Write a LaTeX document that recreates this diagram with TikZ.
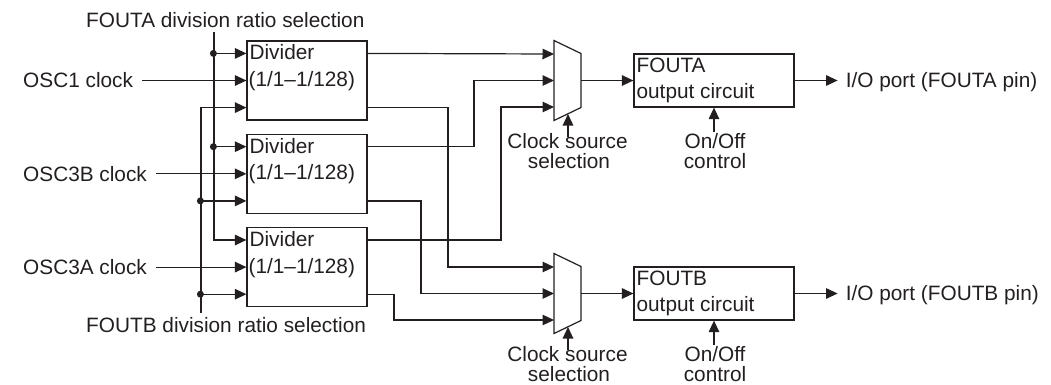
\documentclass[tikz,border=0pt]{standalone}
\usepackage{fontspec}
\setmainfont{Liberation Sans}
\usetikzlibrary{arrows.meta,calc}
\definecolor{ink}{RGB}{35,31,32}
\tikzset{
  wire/.style={draw=ink, line width=1.2pt},
  arr/.style={wire, -{Triangle[length=11.5pt,width=10.5pt]}},
  divbox/.style={draw=ink, line width=1.2pt, minimum width=120pt, minimum height=79pt, inner sep=0pt},
  outbox/.style={draw=ink, line width=1.2pt, minimum width=160pt, minimum height=53pt, inner sep=0pt},
  txt/.style={inner sep=0pt, text=ink, font=\fontsize{20.8pt}{20pt}\selectfont},
  junction/.style={circle, fill=ink, inner sep=0pt, minimum size=7pt},
  muxshape/.style={draw=ink, line width=1.2pt, line join=miter}
}
\begin{document}
\begin{tikzpicture}[x=1pt,y=-1pt]
\useasboundingbox (0,0) rectangle (1051,384);

% divider blocks
\foreach \i/\cy in {1/80.5, 2/173.8, 3/267.1} {
  \node[divbox] (d\i) at (307,\cy) {};
  \node[txt, anchor=base west] (d\i t1) at ($(d\i.north west)+(3,19.5)$) {Divider};
  \node[txt, anchor=base west] (d\i t2) at ($(d\i.north west)+(2,46)$) {(1/1–1/128)};
}

% clock source multiplexers
\coordinate (ma) at (567.5,80.5);
\coordinate (mb) at (567.5,293.5);
\foreach \m in {ma,mb} {
  \draw[muxshape] ($(\m)+(-13.5,-40)$) -- ($(\m)+(13.5,-27)$) -- ($(\m)+(13.5,27)$) -- ($(\m)+(-13.5,40)$) -- cycle;
  \coordinate (\m1) at ($(\m)+(-13.5,-26.5)$);
  \coordinate (\m2) at ($(\m)+(-13.5,0)$);
  \coordinate (\m3) at ($(\m)+(-13.5,26.5)$);
  \coordinate (\m-out) at ($(\m)+(13.5,0)$);
  \coordinate (\m-sel) at ($(\m)+(0.5,33.5)$);
}

% output circuits
\node[outbox] (fa) at (714,80.5) {};
\node[outbox] (fb) at (714,293.5) {};
\node[txt, anchor=base west] (fat1) at ($(fa.north west)+(3,19)$) {FOUTA};
\node[txt, anchor=base west] (fat2) at ($(fa.north west)+(3,45)$) {output circuit};
\node[txt, anchor=base west] (fbt1) at ($(fb.north west)+(3,19)$) {FOUTB};
\node[txt, anchor=base west] (fbt2) at ($(fb.north west)+(3,45)$) {output circuit};

% division ratio selection buses
\node[txt, anchor=base west] (selA) at (86,27) {FOUTA division ratio selection};
\node[txt, anchor=base west] (selB) at (86,332) {FOUTB division ratio selection};
\coordinate (busA) at (214,32);
\coordinate (busB) at (201,313);
\draw[arr] (busA) |- ($(d3.north west)+(0,13)$);
\node[junction] (ja1) at ($(d1.north west)+(-33,13)$) {};
\draw[arr] (ja1.center) -- (d1.west |- ja1);
\node[junction] (ja2) at ($(d2.north west)+(-33,13)$) {};
\draw[arr] (ja2.center) -- (d2.west |- ja2);
\draw[arr] (busB) |- ($(d1.south west)+(0,-13)$);
\node[junction] (jb2) at ($(d2.south west)+(-46,-13)$) {};
\draw[arr] (jb2.center) -- (d2.west |- jb2);
\node[junction] (jb3) at ($(d3.south west)+(-46,-13)$) {};
\draw[arr] (jb3.center) -- (d3.west |- jb3);

% clock inputs
\node[txt, anchor=west] (osc1) at (23,80.5) {OSC1 clock};
\node[txt, anchor=west] (osc3b) at (23,173.8) {OSC3B clock};
\node[txt, anchor=west] (osc3a) at (23,267.1) {OSC3A clock};
\draw[arr] (osc1.east) ++(9,0) -- (d1.west);
\draw[arr] (osc3b.east) ++(9,0) -- (d2.west);
\draw[arr] (osc3a.east) ++(9,0) -- (d3.west);

% divider outputs to the multiplexers
\draw[arr] ($(d1.north east)+(0,13)$) -- (ma1);
\draw[arr] ($(d2.north east)+(0,13)$) -| ($(ma2)+(-80,0)$) -- (ma2);
\draw[arr] ($(d3.north east)+(0,13)$) -| ($(ma3)+(-53,0)$) -- (ma3);
\draw[arr] ($(d1.south east)+(0,-13)$) -| ($(mb1)+(-106,0)$) -- (mb1);
\draw[arr] ($(d2.south east)+(0,-13)$) -| ($(mb2)+(-133,0)$) -- (mb2);
\draw[arr] ($(d3.south east)+(0,-13)$) -| ($(mb3)+(-160,0)$) -- (mb3);

% multiplexer outputs
\draw[arr] (ma-out) -- (fa.west);
\draw[arr] (mb-out) -- (fb.west);

% clock source selection
\node[txt, anchor=base] (csa1) at (567.5,148) {Clock source};
\node[txt, anchor=base] (csa2) at (569,168) {selection};
\draw[arr] ($(ma-sel)+(0,23)$) -- (ma-sel);
\node[txt, anchor=base] (csb1) at (567.5,361) {Clock source};
\node[txt, anchor=base] (csb2) at (569,381) {selection};
\draw[arr] ($(mb-sel)+(0,23)$) -- (mb-sel);

% on/off control
\node[txt, anchor=base] (ona1) at (715,148) {On/Off};
\node[txt, anchor=base] (ona2) at (715,168) {control};
\draw[arr] ($(fa.south)+(0,24)$) -- (fa.south);
\node[txt, anchor=base] (onb1) at (715,361) {On/Off};
\node[txt, anchor=base] (onb2) at (715,381) {control};
\draw[arr] ($(fb.south)+(0,24)$) -- (fb.south);

% I/O ports
\draw[arr] (fa.east) -- ++(43,0) coordinate (pa);
\node[txt, anchor=base west] (ioa) at ($(fa.east)+(51,7)$) {I/O port (FOUTA pin)};
\draw[arr] (fb.east) -- ++(43,0) coordinate (pb);
\node[txt, anchor=base west] (iob) at ($(fb.east)+(51,7)$) {I/O port (FOUTB pin)};
\end{tikzpicture}
\end{document}
